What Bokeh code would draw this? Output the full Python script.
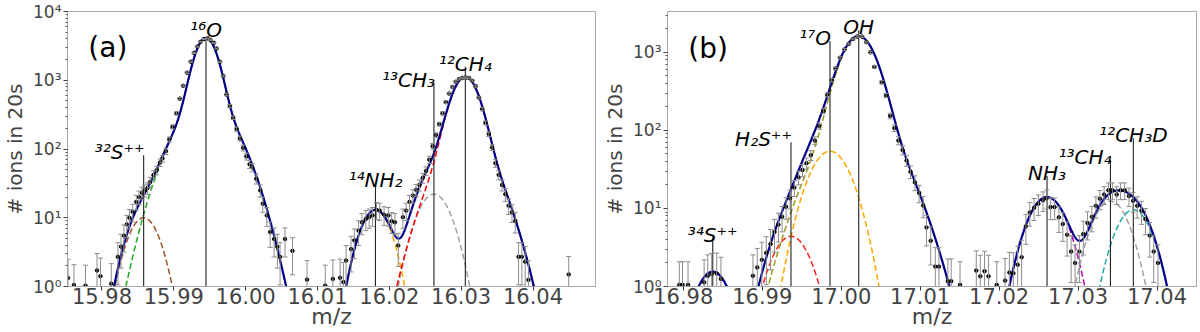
import numpy as np
from bokeh.plotting import figure
from bokeh.layouts import row
from bokeh.models import (ColumnDataSource, Whisker, TeeHead, Range1d, FixedTicker,
                          PrintfTickFormatter, CustomJSTickFormatter)
from bokeh.core.properties import value
from bokeh.embed import file_html
from bokeh.resources import INLINE

FONT = "DejaVu Sans"

# ---------------- panel (a): m/z 16 ----------------
A_MZ = [15.97527, 15.97610, 15.97770, 15.97931, 15.97979, 15.98129,
        15.98222, 15.98265, 15.98305, 15.98345, 15.98382, 15.98428, 15.98478, 15.98515,
        15.98556, 15.98593, 15.98634, 15.98670, 15.98717, 15.98762, 15.98808, 15.98841,
        15.98890, 15.98937, 15.98983, 15.99038, 15.99083, 15.99130, 15.99185, 15.99235,
        15.99282, 15.99327, 15.99372, 15.99420, 15.99475, 15.99511, 15.99558, 15.99596,
        15.99642, 15.99688, 15.99734, 15.99780, 15.99826, 15.99875, 15.99920, 15.99965,
        16.00010, 16.00055, 16.00090, 16.00148, 16.00203, 16.00239, 16.00294, 16.00341,
        16.00396, 16.00441, 16.00479, 16.00548, 16.00652, 16.00855, 16.01108,
        16.01214, 16.01315, 16.01361, 16.01398, 16.01467, 16.01513, 16.01572, 16.01618,
        16.01673, 16.01720, 16.01766, 16.01821, 16.01866, 16.01927, 16.01986, 16.02032,
        16.02078, 16.02124, 16.02189, 16.02235, 16.02281, 16.02327, 16.02373, 16.02419,
        16.02465, 16.02511, 16.02557, 16.02603, 16.02649, 16.02695, 16.02741, 16.02787,
        16.02833, 16.02879, 16.02925, 16.02971, 16.03017, 16.03063, 16.03109, 16.03155,
        16.03201, 16.03247, 16.03293, 16.03339, 16.03385, 16.03431, 16.03477, 16.03523,
        16.03569, 16.03615, 16.03661, 16.03707, 16.03753, 16.03799, 16.03845, 16.03891,
        16.03937, 16.04497]
A_COUNTS = [1.33, 1.05, 1.03, 1.71, 1.41, 1.1,
            2.7, 3.8, 5.5, 8.0, 10, 12.2, 17, 20,
            23, 25, 27, 33, 41.7, 49, 63.6, 72.8,
            93, 138, 210, 330, 540, 830, 1290, 1860,
            2500, 3080, 3630, 3970, 4060, 3830, 3500, 2890,
            1850, 1150, 620, 420, 285, 195, 142, 104,
            78, 60, 54, 37, 25, 16, 10.8, 6.2,
            4.9, 3.8, 2.7, 4.9, 3.3, 1.26, 1.03,
            1.29, 1.34, 1.16, 2.39, 3.5, 4.7, 6.5, 8.6,
            9.6, 10.2, 10.8, 13.0, 12.7, 11.1, 10.8, 8.9,
            8.6, 3.95, 10.2, 12.7, 17, 21, 25.5, 30,
            38, 48, 70, 110, 160, 230, 330, 480,
            640, 800, 950, 1040, 1080, 1090, 1080, 980,
            820, 560, 380, 240, 165, 105, 62, 42,
            30, 22, 15, 12, 9, 2.7, 2.7, 2.3,
            1.25, 1.5]

# fitted peaks (a): centre, core amplitude/width, wide amplitude/width
A_PEAK_CENTER = [15.98580, 15.99448, 16.01807, 16.02621, 16.03058]
A_PEAK_AMP = [10.0, 3690.0, 13.0, 22.0, 1000.0]
A_PEAK_SIGMA = [0.00186, 0.00134, 0.00180, 0.00200, 0.00157]
A_PEAK_AMP_WIDE = [0.0, 452.0, 0.0, 0.0, 121.0]
A_PEAK_SIGMA_WIDE = [0.003, 0.00319, 0.003, 0.003, 0.00308]
A_PEAK_COLORS = ["#a0522d", "#22a822", "#ffa500", "#a0a0a0", "#ff0000"]

A_LABELS = ["³²S⁺⁺", "¹⁶O", "¹⁴NH₂", "¹³CH₃", "¹²CH₄"]
A_LABEL_X = [15.98580, 15.99448, 16.01807, 16.02621, 16.03058]
A_LABEL_TOP = [81, 4140, 31.5, 927, 1570]
A_LABEL_ALIGN = ["right", "center", "center", "right", "center"]
A_LABEL_LIFT = [3, 8, 3, 3, 3]
A_XTICKS = [15.98, 15.99, 16.00, 16.01, 16.02, 16.03, 16.04]

# ---------------- panel (b): m/z 17 ----------------
B_MZ = [16.97950, 16.97990, 16.98060,
        16.98264, 16.98310, 16.98360, 16.98423, 16.98477,
        16.98882, 16.98937, 16.98995, 16.99051, 16.99105, 16.99155, 16.99205, 16.99251,
        16.99302, 16.99352, 16.99406, 16.99460, 16.99510, 16.99560, 16.99615, 16.99666,
        16.99720, 16.99774, 16.99824, 16.99879, 16.99929, 16.99985, 17.00042, 17.00096,
        17.00150, 17.00200, 17.00263, 17.00318, 17.00370, 17.00420, 17.00514, 17.00569,
        17.00620, 17.00674, 17.00724, 17.00778, 17.00828, 17.00878, 17.00933, 17.00987,
        17.01038, 17.01080, 17.01134, 17.01192, 17.01238, 17.01351, 17.01393,
        17.01505, 17.01711, 17.01762, 17.01816, 17.01866, 17.01970, 17.02076, 17.02130,
        17.02180, 17.02235, 17.02285, 17.02339, 17.02389, 17.02443, 17.02497, 17.02556,
        17.02603, 17.02653, 17.02703, 17.02757, 17.02807, 17.02861, 17.02912, 17.02962,
        17.03017, 17.03067, 17.03120, 17.03175, 17.03226, 17.03276, 17.03330, 17.03385,
        17.03435, 17.03489, 17.03539, 17.03590, 17.03645, 17.03697, 17.03749, 17.03803,
        17.03853, 17.03908, 17.03958, 17.04012]
B_COUNTS = [1.05, 1.05, 1.05,
            1.13, 1.37, 1.45, 1.47, 1.25,
            1.37, 1.75, 2.2, 2.7, 3.5, 5.0, 6.2, 7.8,
            10.5, 13.5, 18.5, 25, 31, 38, 48, 74,
            114, 177, 286, 442, 620, 850, 1085, 1280,
            1480, 1590, 1590, 1350, 1000, 650, 413, 280,
            153, 107, 74, 56, 41, 29.5, 21.5, 15.8,
            10.9, 5.7, 3.85, 1.8, 1.8, 1.17, 1.17,
            1.05, 1.6, 1.35, 1.57, 1.35, 1.05, 1.19, 1.51,
            1.48, 1.9, 2.37, 5.9, 8.9, 10.2, 11.5, 12.7,
            13.5, 10.4, 10.4, 7.7, 6.3, 4.6, 2.8, 2.0,
            2.8, 4.7, 6.5, 7.8, 10.8, 13.3, 15.1, 17.1,
            17.1, 15.1, 17.1, 17.1, 14.4, 12.5, 10.8, 9.3,
            7.3, 4.5, 2.8, 2.0]

B_PEAK_CENTER = [16.98373, 16.99364, 16.99858, 17.00222, 17.02607, 17.03410, 17.03700]
B_PEAK_AMP = [1.55, 4.4, 54.0, 1459.0, 14.0, 12.4, 9.6]
B_PEAK_SIGMA = [0.00190, 0.00210, 0.00220, 0.00185, 0.00208, 0.00200, 0.00200]
B_PEAK_AMP_WIDE = [0.0, 0.0, 0.0, 141.0, 0.0, 0.0, 0.0]
B_PEAK_SIGMA_WIDE = [0.003, 0.003, 0.003, 0.00365, 0.003, 0.003, 0.003]
B_PEAK_COLORS = ["#00008b", "#ff2020", "#ffa500", "#9a9a1e", "#b000b0", "#a0a0a0", "#20a8a8"]

B_LABELS = ["³⁴S⁺⁺", "H₂S⁺⁺", "¹⁷O", "OH", "NH₃", "¹³CH₄", "¹²CH₃D"]
B_LABEL_X = [16.98373, 16.99364, 16.99858, 17.00222, 17.02607, 17.03410, 17.03700]
B_LABEL_TOP = [4.2, 70.6, 1384, 1910, 26, 42, 79.5]
B_LABEL_ALIGN = ["center", "right", "right", "center", "center", "right", "center"]
B_LABEL_LIFT = [3, 3, 3, 3, 3, 3, 3]
B_XTICKS = [16.98, 16.99, 17.00, 17.01, 17.02, 17.03, 17.04]

X_TITLE = "m/z"
Y_TITLE = "# ions in 20s"

SUP = CustomJSTickFormatter(code="""
const s = {"0":"\u2070","1":"\u00b9","2":"\u00b2","3":"\u00b3","4":"\u2074","5":"\u2075",
           "6":"\u2076","7":"\u2077","8":"\u2078","9":"\u2079","-":"\u207b"};
const e = Math.round(Math.log10(tick));
return "10" + String(e).split("").map(c => s[c]).join("");
""")


def peak(xg, c, a, s, aw, sw):
    y = a * np.exp(-0.5 * ((xg - c) / s) ** 2)
    if aw > 0:
        y = y + aw * np.exp(-0.5 * ((xg - c) / sw) ** 2)
    return y


def panel(xr, yr, mz, counts, centers, amps, sigmas, ampw, sigw, colors,
          labels, lab_x, lab_top, lab_align, lab_lift, xticks, tag, tag_xy,
          b_left, b_right, b_top):
    p = figure(width=600, height=332, x_range=Range1d(*xr), y_range=Range1d(*yr),
               y_axis_type="log", output_backend="svg", toolbar_location=None,
               min_border_left=b_left, min_border_right=b_right,
               min_border_top=b_top, min_border_bottom=46)
    p.grid.visible = False
    p.outline_line_color = "#a8a8a8"
    p.background_fill_color = "white"
    p.border_fill_color = "white"

    xg = np.linspace(xr[0], xr[1], 2000)
    total = np.zeros_like(xg)
    comps = []
    for c, a, s, aw, sw in zip(centers, amps, sigmas, ampw, sigw):
        y = peak(xg, c, a, s, aw, sw)
        comps.append(y)
        total = total + y
    for y, col in zip(comps, colors):
        yy = np.where(y >= 0.3, y, np.nan)
        p.line(xg, yy, line_color=col, line_width=1.5, line_dash="6 3")
    tt = np.where(total >= 0.3, total, np.nan)
    p.line(xg, tt, line_color="#00008b", line_width=2.2)

    mz = np.array(mz)
    n = np.array(counts)
    err = np.sqrt(n)
    src = ColumnDataSource(dict(x=mz, y=n, lo=np.maximum(n - err, 0.01), hi=n + err))
    w = Whisker(source=src, base="x", lower="lo", upper="hi",
                line_color="#8c8c8c", line_width=1, level="glyph",
                upper_head=TeeHead(size=5, line_color="#8c8c8c", line_width=1),
                lower_head=TeeHead(size=5, line_color="#8c8c8c", line_width=1))
    p.add_layout(w)
    p.scatter("x", "y", source=src, size=3.5, color="black")

    p.segment(x0=lab_x, y0=[0.5] * len(lab_x), x1=lab_x, y1=lab_top,
              line_color="#222222", line_width=1.1)
    for t, x, y, al, lift in zip(labels, lab_x, lab_top, lab_align, lab_lift):
        p.text(x=[x], y=[y], text=[t], text_align=al, text_baseline="alphabetic",
               y_offset=-lift, x_offset=(1 if al == "right" else 0),
               text_font=value(FONT), text_font_size="20px", text_font_style="italic",
               text_color="black")
    p.text(x=[tag_xy[0]], y=[tag_xy[1]], text=[tag], text_align="left",
           text_baseline="alphabetic", text_font=value(FONT), text_font_size="28px",
           text_color="black")

    xa = p.xaxis[0]
    ya = p.yaxis[0]
    xa.ticker = FixedTicker(ticks=xticks)
    xa.formatter = PrintfTickFormatter(format="%.2f")
    ya.formatter = SUP
    xa.axis_label = X_TITLE
    ya.axis_label = Y_TITLE
    for ax in (xa, ya):
        ax.major_label_text_font = FONT
        ax.major_label_text_line_height = 1.0
        ax.axis_label_text_font = FONT
        ax.axis_label_text_line_height = 1.0
        ax.axis_label_text_font_style = "normal"
        ax.major_tick_in = 0
        ax.major_tick_out = 4
        ax.minor_tick_in = 0
        ax.minor_tick_out = 2
        ax.axis_line_color = "#a8a8a8"
        ax.major_tick_line_color = "#333333"
        ax.minor_tick_line_color = "#555555"
    xa.major_label_text_font_size = "21px"
    xa.axis_label_text_font_size = "22px"
    ya.major_label_text_font_size = "17px"
    ya.axis_label_text_font_size = "20px"
    xa.major_label_standoff = -3
    xa.axis_label_standoff = -3
    ya.major_label_standoff = 2
    ya.axis_label_standoff = 3
    xa.minor_tick_line_color = None
    return p


p1 = panel((15.9752, 16.0487), (1, 1e4), A_MZ, A_COUNTS, A_PEAK_CENTER, A_PEAK_AMP,
           A_PEAK_SIGMA, A_PEAK_AMP_WIDE, A_PEAK_SIGMA_WIDE, A_PEAK_COLORS,
           A_LABELS, A_LABEL_X, A_LABEL_TOP, A_LABEL_ALIGN, A_LABEL_LIFT, A_XTICKS,
           "(a)", (15.9781, 2950), 62, 5, 11)
p2 = panel((16.978, 17.045), (1, 3330), B_MZ, B_COUNTS, B_PEAK_CENTER, B_PEAK_AMP,
           B_PEAK_SIGMA, B_PEAK_AMP_WIDE, B_PEAK_SIGMA_WIDE, B_PEAK_COLORS,
           B_LABELS, B_LABEL_X, B_LABEL_TOP, B_LABEL_ALIGN, B_LABEL_LIFT, B_XTICKS,
           "(b)", (16.98063, 1130), 62, 4, 6)

layout = row(p1, p2)
open("out.html", "w").write(file_html(layout, INLINE))
